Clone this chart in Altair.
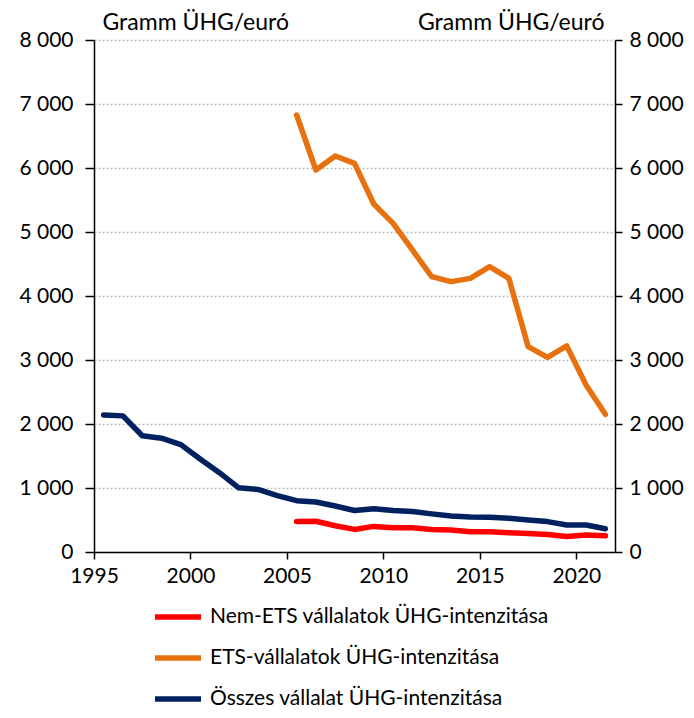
import altair as alt
import pandas as pd

years = list(range(1995, 2022))
osszes = [2142, 2127, 1816, 1778, 1678, 1452, 1240, 1003, 977, 882, 802, 782, 719, 649,
          675, 649, 633, 596, 564, 548, 543, 528, 501, 475, 422, 422, 364]

ets_years = list(range(2005, 2022))
ets = [6828, 5969, 6188, 6073, 5438, 5135, 4719, 4302, 4224, 4276, 4458, 4276, 3208,
       3042, 3219, 2609, 2151]
nem_ets = [478, 480, 411, 353, 400, 380, 380, 353, 343, 316, 316, 300, 290, 274, 242,
           264, 253]

names = ["Nem-ETS vállalatok ÜHG-intenzitása",
         "ETS-vállalatok ÜHG-intenzitása",
         "Összes vállalat ÜHG-intenzitása"]
colors = ["#FF0000", "#E8710F", "#002060"]
y_ticks = [0, 1000, 2000, 3000, 4000, 5000, 6000, 7000, 8000]
x_ticks = [1995, 2000, 2005, 2010, 2015, 2020]
unit = "Gramm ÜHG/euró"

rows = []
for y, v in zip(years, osszes):
    rows.append({"ev": y, "ertek": v, "sor": names[2], "ord": 0})
for y, v in zip(ets_years, ets):
    rows.append({"ev": y, "ertek": v, "sor": names[1], "ord": 1})
for y, v in zip(ets_years, nem_ets):
    rows.append({"ev": y, "ertek": v, "sor": names[0], "ord": 2})
df = pd.DataFrame(rows)

FONT = "Lato"
label_expr = "replace(format(datum.value, ','), ',', ' ')"

x_enc = alt.X("xpos:Q",
              scale=alt.Scale(domain=[1995, 2022], nice=False, zero=False),
              axis=alt.Axis(values=x_ticks, format="d", title=None, grid=False,
                            domainColor="black", domainWidth=1.5,
                            tickColor="black", tickWidth=1.5, tickSize=7,
                            labelFont=FONT, labelFontSize=21, labelColor="black",
                            labelPadding=6, labelFlush=False))

base = alt.Chart(df).transform_calculate(xpos="datum.ev + 0.5")

lines = base.mark_line(strokeWidth=5.5, strokeCap="round", strokeJoin="round").encode(
    x=x_enc,
    y=alt.Y("ertek:Q",
            scale=alt.Scale(domain=[0, 8000], nice=False),
            axis=alt.Axis(values=y_ticks, labelExpr=label_expr, orient="left",
                          grid=True, gridColor="#BFBFBF", gridDash=[2, 2], gridWidth=1.3,
                          domainColor="black", domainWidth=1.5,
                          tickColor="black", tickWidth=1.5, tickSize=9,
                          labelFont=FONT, labelFontSize=21, labelColor="black",
                          labelPadding=12,
                          title=unit, titleAngle=0, titleAlign="left",
                          titleBaseline="alphabetic", titleX=8, titleY=-11,
                          titleFont=FONT, titleFontSize=23, titleFontWeight="normal",
                          titleColor="black")),
    color=alt.Color("sor:N",
                    scale=alt.Scale(domain=names, range=colors),
                    legend=alt.Legend(title=None, orient="none", legendX=58, legendY=551,
                                      direction="vertical", symbolType="stroke",
                                      symbolStrokeWidth=5.5, symbolSize=2116,
                                      labelFont=FONT, labelFontSize=21,
                                      labelColor="black", labelOffset=6,
                                      rowPadding=4, labelLimit=500)),
    order=alt.Order("ord:Q"),
    detail="sor:N",
)

right = base.mark_line(opacity=0).encode(
    x=x_enc,
    y=alt.Y("ertek:Q",
            scale=alt.Scale(domain=[0, 8000], nice=False),
            axis=alt.Axis(values=y_ticks, labelExpr=label_expr, orient="right",
                          grid=False,
                          domainColor="black", domainWidth=1.5,
                          tickColor="black", tickWidth=1.5, tickSize=7,
                          labelFont=FONT, labelFontSize=21, labelColor="black",
                          labelPadding=7,
                          title=unit, titleAngle=0, titleAlign="right",
                          titleBaseline="alphabetic", titleX=-11, titleY=-11,
                          titleFont=FONT, titleFontSize=23, titleFontWeight="normal",
                          titleColor="black")),
    detail="sor:N",
)

chart = alt.layer(lines, right).resolve_scale(y="independent").properties(
    width=521, height=512,
    autosize=alt.AutoSizeParams(type="none"),
    padding={"left": 86, "top": 32, "right": 70, "bottom": 160},
    background="white",
).configure_view(strokeWidth=0)

chart.save("out.html", embed_options={"renderer": "svg", "actions": False})
